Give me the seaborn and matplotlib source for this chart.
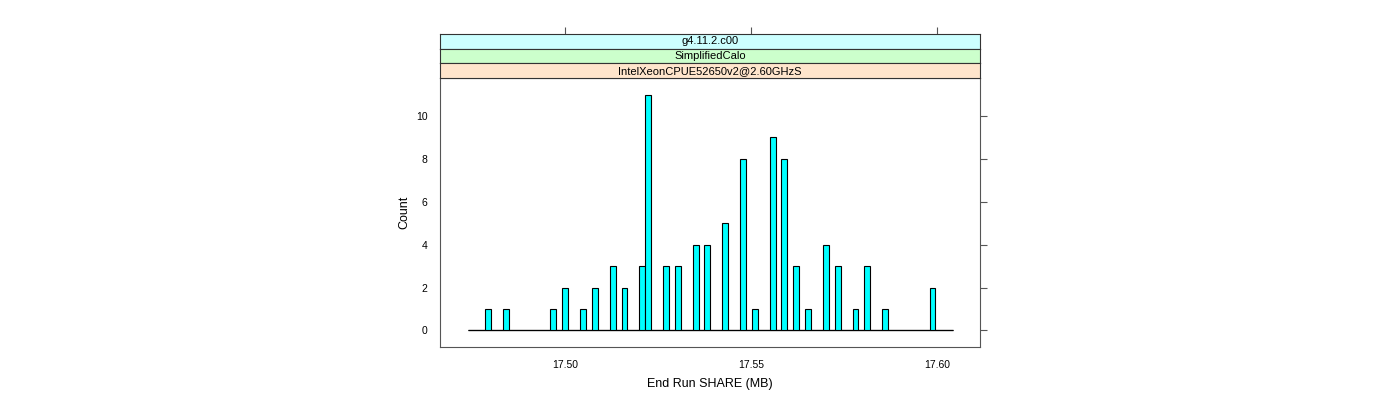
import numpy as np
import pandas as pd
import matplotlib
matplotlib.use("Agg")
import matplotlib.pyplot as plt
import seaborn as sns

# ===== DATA =====
share_mb = [17.4794, 17.4840, 17.4967, 17.4999, 17.5048, 17.5080, 17.5128,
            17.5158, 17.5206, 17.5223, 17.5271, 17.5303, 17.5352, 17.5381,
            17.5430, 17.5478, 17.5510, 17.5559, 17.5589, 17.5621, 17.5653,
            17.5702, 17.5731, 17.5780, 17.5812, 17.5860, 17.5987]
counts = [1, 1, 1, 2, 1, 2, 3, 2, 3, 11, 3, 3, 4, 4, 5, 8, 1, 9, 8, 3, 1,
          4, 3, 1, 3, 1, 2]
hist_range = (17.4737, 17.6044)
n_bins = 82
x_ticks = [17.50, 17.55, 17.60]
y_ticks = [0, 2, 4, 6, 8, 10]
strip_labels = ["g4.11.2.c00", "SimplifiedCalo", "IntelXeonCPUE52650v2@2.60GHzS"]
strip_colors = ["#ccffff", "#ccffcc", "#ffe5cc"]

df = pd.DataFrame({"share": share_mb, "count": counts})

sns.set_style("white")
plt.rcParams["font.family"] = ["Liberation Sans", "DejaVu Sans"]
plt.rcParams["text.color"] = "black"
plt.rcParams["axes.labelcolor"] = "black"
plt.rcParams["xtick.labelcolor"] = "black"
plt.rcParams["ytick.labelcolor"] = "black"

frame_col = "#555555"
fig = plt.figure(figsize=(14, 4), dpi=100)

# panel geometry in pixels (1400x400)
left, right = 440 / 1400, 980 / 1400
p_bot, p_top = 1 - 347 / 400, 1 - 78 / 400
strip_h = (78 - 34) / 3 / 400

ax = fig.add_axes([left, p_bot, right - left, p_top - p_bot])
edges = list(np.linspace(hist_range[0], hist_range[1], n_bins + 1))
# empty bins show as a flat line along zero, like lattice does
ax.hlines(0, hist_range[0], hist_range[1], color="black", linewidth=0.9,
          zorder=1)
sns.histplot(data=df, x="share", weights="count", bins=edges, color="#00ffff",
             alpha=1, edgecolor="black", linewidth=0.8, ax=ax, zorder=2)

xlo, xhi = 17.4663, 17.6116
ax.set_xlim(xlo, xhi)
ax.set_ylim(-0.77, 11.77)
ax.set_xticks(x_ticks)
ax.set_xticklabels([f"{t:.2f}" for t in x_ticks])
ax.set_yticks(y_ticks)
ax.tick_params(axis="both", direction="out", length=5, width=0.8,
               color=frame_col, labelsize=7.5, pad=4)
ax.tick_params(axis="y", right=True, labelright=False)
for sp in ax.spines.values():
    sp.set_color(frame_col)
    sp.set_linewidth(0.8)
ax.set_xlabel("End Run SHARE (MB)", fontsize=9, labelpad=6)
ax.set_ylabel("Count", fontsize=9, labelpad=4)

# strips, outermost level at the bottom
for i, (lab, col) in enumerate(zip(strip_labels, strip_colors)):
    y0 = p_top + (2 - i) * strip_h
    sax = fig.add_axes([left, y0, right - left, strip_h])
    sax.set_facecolor(col)
    sax.set_xlim(xlo, xhi)
    sax.set_yticks([])
    sax.text(0.5, 0.5, lab, ha="center", va="center", fontsize=8,
             color="black", transform=sax.transAxes)
    for sp in sax.spines.values():
        sp.set_color("#333333")
        sp.set_linewidth(0.8)
    if i == 0:
        sax.set_xticks(x_ticks)
        sax.tick_params(axis="x", top=True, bottom=False, labeltop=False,
                        labelbottom=False, direction="out", length=5,
                        width=0.8, color=frame_col)
    else:
        sax.set_xticks([])

fig.savefig("out.png", dpi=100, facecolor="white")
